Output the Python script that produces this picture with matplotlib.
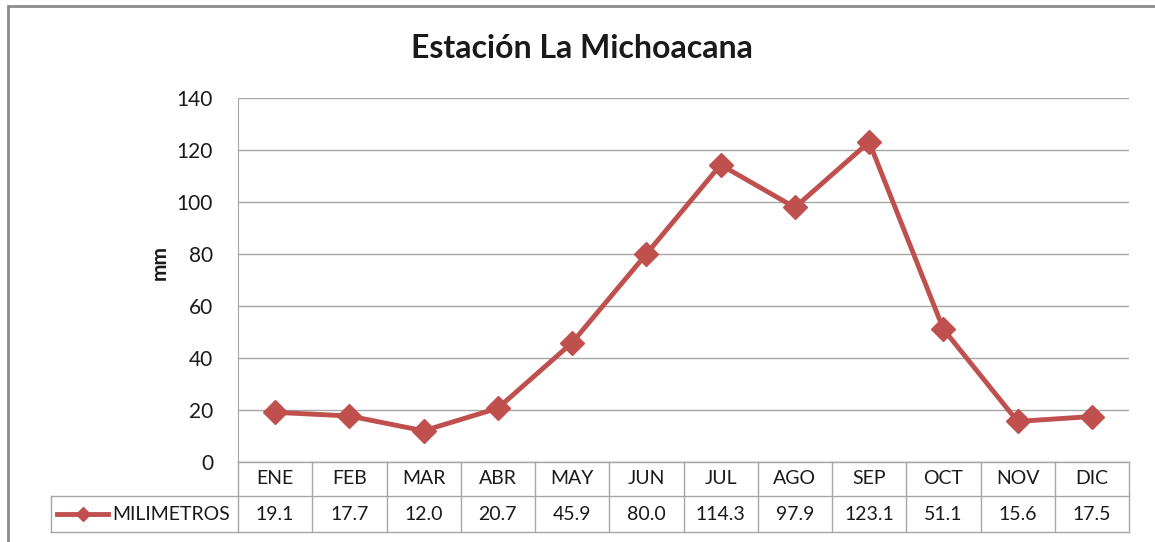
import matplotlib
matplotlib.use("Agg")
import matplotlib.pyplot as plt
from matplotlib.transforms import blended_transform_factory
from matplotlib.lines import Line2D
from matplotlib.patches import Rectangle

plt.rcParams['font.family'] = ['Lato', 'DejaVu Sans']

MONTHS = ["ENE", "FEB", "MAR", "ABR", "MAY", "JUN", "JUL", "AGO", "SEP", "OCT", "NOV", "DIC"]
MM = [19.1, 17.7, 12.0, 20.7, 45.9, 80.0, 114.3, 97.9, 123.1, 51.1, 15.6, 17.5]
SERIES = "MILIMETROS"
TITLE = "Estación La Michoacana"
RED = "#C0504D"
GRID = "#A6A6A6"
TXT = "#1a1a1a"

W, H = 1155, 542
fig = plt.figure(figsize=(W / 100, H / 100), dpi=100)

# outer chart frame
fig.patches.append(Rectangle((8 / W, -0.1), 1.2, (H - 6) / H + 0.1, transform=fig.transFigure,
                             fill=False, edgecolor="#8C8C8C", linewidth=2))

L, R, T, B = 238, 1129, 98, 462
ax = fig.add_axes([L / W, (H - B) / H, (R - L) / W, (B - T) / H])

x = list(range(len(MONTHS)))
ax.plot(x, MM, color=RED, linewidth=3.5, marker="D", markersize=12, zorder=3)

ax.set_xlim(-0.5, len(MONTHS) - 0.5)
ax.set_ylim(0, 140)
ax.set_yticks(range(0, 141, 20))
ax.set_xticks([])
ax.yaxis.grid(True, color=GRID, linewidth=1)
ax.set_axisbelow(True)
for s in ["top", "right", "bottom"]:
    ax.spines[s].set_visible(False)
ax.spines["left"].set_color(GRID)
ax.tick_params(axis="y", length=0, pad=18, labelsize=15, colors=TXT)

fig.text(160 / W, 1 - 262 / H, "mm", rotation=90, ha="center", va="center",
         fontsize=15, fontweight="bold", color=TXT)
fig.text(582 / W, 1 - 48 / H, TITLE, ha="center", va="center", fontsize=23,
         fontweight="bold", color=TXT)

# data table under the axis
tr = blended_transform_factory(ax.transData, ax.transAxes)
ph = B - T
y_hdr = -(496 - B) / ph
y_bot = -(532 - B) / ph
x0, x1 = -0.5, len(MONTHS) - 0.5
kw = dict(color=GRID, linewidth=1, transform=tr, clip_on=False)
ax.add_line(Line2D([x0, x1], [0, 0], **kw))
ax.add_line(Line2D([x0, x1], [y_hdr, y_hdr], **kw))
ax.add_line(Line2D([x0, x1], [y_bot, y_bot], **kw))
for i in range(len(MONTHS) + 1):
    ax.add_line(Line2D([i - 0.5, i - 0.5], [0, y_bot], **kw))
for i, (m, v) in enumerate(zip(MONTHS, MM)):
    ax.text(i, y_hdr / 2, m, ha="center", va="center", fontsize=14, transform=tr, color=TXT)
    ax.text(i, (y_hdr + y_bot) / 2, f"{v:.1f}", ha="center", va="center", fontsize=14,
            transform=tr, color=TXT)

# legend cell
cw = (R - L) / len(MONTHS)
xl = x0 - (L - 51) / cw
ax.add_line(Line2D([xl, xl], [y_hdr, y_bot], **kw))
ax.add_line(Line2D([xl, x0], [y_hdr, y_hdr], **kw))
ax.add_line(Line2D([xl, x0], [y_bot, y_bot], **kw))
ym = (y_hdr + y_bot) / 2
lx0 = x0 - (L - 57) / cw
lx1 = x0 - (L - 108) / cw
ax.add_line(Line2D([lx0, lx1], [ym, ym], color=RED, linewidth=3.5, transform=tr, clip_on=False))
ax.add_line(Line2D([(lx0 + lx1) / 2], [ym], color=RED, marker="D", markersize=7,
                   transform=tr, clip_on=False))
ax.text(x0 - (L - 112) / cw, ym, SERIES, ha="left", va="center", fontsize=14, transform=tr,
        color=TXT)

fig.savefig("out.png", dpi=100)
